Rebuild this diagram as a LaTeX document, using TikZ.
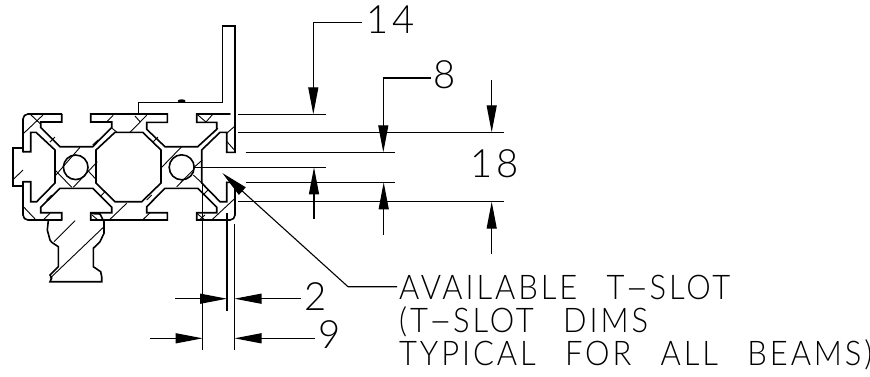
\documentclass[tikz,border=0pt]{standalone}
\usepackage{fontspec}
\usepackage{graphicx}
\usetikzlibrary{arrows.meta}
\newfontfamily\cadfont{Lato Light}[FakeStretch=0.91,LetterSpace=8.5,WordSpace=2.6]
\newfontfamily\caddigits{Lato Light}[FakeStretch=0.98,LetterSpace=10]
\newcommand{\cadhy}{\scalebox{2.2}[1]{-}}
\tikzset{
  x=1pt,y=-1pt,
  outline/.style={line width=1.6pt,line join=miter,line cap=round},
  hatchline/.style={line width=0.9pt},
  dimline/.style={line width=1.1pt},
  dimarrow/.style={line width=1.1pt,-{Triangle[length=27pt,width=10pt]}},
  cadtext/.style={inner sep=0pt,anchor=base west,font=\cadfont\fontsize{34}{34}\selectfont},
  caddigit/.style={inner sep=0pt,anchor=base west,font=\caddigits\fontsize{39}{39}\selectfont}
}
\begin{document}
\begin{tikzpicture}
\useasboundingbox (0,0) rectangle (870,376);
% outer skin
\draw[outline,rounded corners=5pt] (61.7,114) -- (23,114) -- (23,151.7);
\draw[outline] (23,151.7) -- (30.7,151.7) -- (30.7,132.3) -- (36,132.3) -- (55,150) -- (55,183) -- (36.7,201.7) -- (30.7,201.7) -- (30.7,181.7) -- (23,181.7);
\draw[outline,rounded corners=5pt] (23,181.7) -- (23,220) -- (61.7,220);
% end plate
\draw[outline] (23,148) -- (12.7,148) -- (12.7,186) -- (23,186);
% top slots
\draw[outline] (61.7,114) -- (61.7,122) -- (40.7,122) -- (40.7,127.5) -- (60,146.7) -- (92.7,146.7) -- (111.7,127.5) -- (111.7,122) -- (90.7,122) -- (90.7,114) -- (167.3,114) -- (167.3,122.3) -- (146.7,122.3) -- (146.7,129.3) -- (165,146.7) -- (197.7,146.7) -- (216.7,129.3) -- (216.7,122.3) -- (196.7,122.3) -- (196.7,114) -- (230,114);
% bottom slots
\draw[outline] (61.7,220) -- (61.7,212.7) -- (40.7,212.7) -- (40.7,207.3) -- (60,188.3) -- (92.7,188.3) -- (111.7,207.3) -- (111.7,212.7) -- (90.7,212.7) -- (90.7,220) -- (167.3,220) -- (167.3,212.7) -- (146.7,212.7) -- (146.7,206.7) -- (165,188.3) -- (197.7,188.3) -- (216.7,207.3) -- (216.7,212.7) -- (196.7,212.7) -- (196.7,220) -- (230,220);
% centre cavity
\draw[outline] (115,132.3) -- (142.7,132.3) -- (161,150) -- (161,183) -- (141.7,201.7) -- (115,201.7) -- (96,183) -- (96,150) -- cycle;
% right side
\draw[outline] (201.7,183) -- (201.7,150) -- (220,132.3) -- (226.7,132.3) -- (226.7,152.3) -- (235,152.3) -- (235,114);
\draw[outline,rounded corners=5pt] (226.7,182.3) -- (235,182.3) -- (235,220) -- (228,220);
\draw[outline] (226.7,182.3) -- (226.7,201.7) -- (220,201.7) -- (201.7,183);
% bores
\draw[outline] (75.7,167.3) circle[radius=12.3];
\draw[outline] (181.7,167.3) circle[radius=12.5];
% bracket
\draw[outline] (138.3,114) -- (138.3,102.3) -- (222.3,102.3) -- (222.3,26) -- (235,26) -- (235,114);
\fill (181.7,101) ellipse[x radius=4,y radius=1.7];
% T-nut
\draw[outline] (48.3,220.7) -- (47.3,230) -- (50,240) -- (51.7,242.3) -- (58.3,246.7) -- (58.3,266.7) -- (51.7,273.3) -- (50,275) -- (51.7,278) -- (50,281.7) -- (101.7,281.7) -- (101.7,276.7) -- (100.7,271.7) -- (93.3,266.7) -- (93.3,248.3) -- (100,241.7) -- (104,233.3) -- (104,221.7) -- (100,214) -- (91,213.5);
% hatching
\foreach \xa/\ya/\xb/\yb in {
 24/133/43/115, 30/114/40/123.5, 50/142/55/137, 92.7/145/98/140, 106.7/121.7/113.3/115.3,
 111.7/128/116.7/132, 130/132.3/146.7/115.3, 135/116/140/121.7, 153.3/141.7/158/137,
 161.7/167.3/181.7/146.7, 193.3/168/202.3/160, 196.7/114/206/122, 206/122/213/114,
 213/133/218/128, 227/133/235/126, 227/141.7/235/150.7, 55/176/80/147.3, 73.3/187.3/97.3/161.7,
 55/170/71.7/187.3, 87.3/170/96/179.3, 12.7/180/23/170, 24/207.3/36.7/220.7,
 43.3/220/50/213.3, 46.7/200/51.7/195, 100/196.7/105/191.7, 110/219.3/126.7/203.3,
 143.3/219.3/150/212.7, 146.7/200/151.7/195, 176.7/186.7/193.3/170, 193.3/175/203/184,
 211.7/220/235/198.3, 196.7/213.3/205/220, 200/219.3/205/215, 203/195/208/190,
 54/241.7/75/220.7, 50/278.3/104/226.7, 92/215/98/220}{
  \draw[hatchline] (\xa,\ya) -- (\xb,\yb);
}
% extension lines
\foreach \xa/\ya/\xb/\yb in {
 238/114.3/326/114.3, 238/132.3/503.7/132.3, 245.7/152.3/395/152.3, 194/167.3/326/167.3,
 245.7/182.3/395/182.3, 238/201.7/503.7/201.7,
 202.7/183/202.7/350, 227/213/227/310.7, 234.5/224/234.5/350}{
  \draw[dimline] (\xa,\ya) -- (\xb,\yb);
}
% labels
\node[caddigit] (d14) at (366,33) {14};
\node[caddigit] (d8) at (433,88) {8};
\node[caddigit] (d18) at (470,177) {18};
\node[caddigit] (d2) at (304,310) {2};
\node[caddigit] (d9) at (318,348) {9};
\node[cadtext] (l1) at (399,299.3) {AVAILABLE T\cadhy SLOT};
\node[cadtext] (l2) at (399,332) {(T\cadhy SLOT DIMS};
\node[cadtext] (l3) at (399,365) {TYPICAL FOR ALL BEAMS)};
% named free ends
\coordinate (c14a) at (362,22.3); \coordinate (c14b) at (313.3,22.3); \coordinate (c14t) at (313.3,114.3);
\coordinate (c8a) at (431,78); \coordinate (c8b) at (383.3,78); \coordinate (c8t) at (383.3,152.3);
\coordinate (up18) at (491.7,80); \coordinate (t18a) at (491.7,132.3);
\coordinate (dn14) at (314,219); \coordinate (t14) at (314,167.3);
\coordinate (dn8) at (383.7,234.7); \coordinate (t8) at (383.7,182.3);
\coordinate (dn18) at (491.7,254.3); \coordinate (t18b) at (491.7,201.7);
\coordinate (a2l) at (175,298.7); \coordinate (t2l) at (227,298.7);
\coordinate (a2r) at (301,298.7); \coordinate (t2r) at (234.5,298.7);
\coordinate (a9l) at (150,338.3); \coordinate (t9l) at (202.7,338.3);
\coordinate (a9r) at (315,338.3); \coordinate (t9r) at (234.5,338.3);
\coordinate (la) at (397,286.7); \coordinate (lb) at (348,286.7); \coordinate (lt) at (222.3,173);
% dimension arrows
\draw[dimarrow] (c14a) -- (c14b) -- (c14t);
\draw[dimarrow] (c8a) -- (c8b) -- (c8t);
\draw[dimarrow] (up18) -- (t18a);
\draw[dimarrow] (dn14) -- (t14);
\draw[dimarrow] (dn8) -- (t8);
\draw[dimarrow] (dn18) -- (t18b);
\draw[dimarrow] (a2l) -- (t2l);
\draw[dimarrow] (a2r) -- (t2r);
\draw[dimarrow] (a9l) -- (t9l);
\draw[dimarrow] (a9r) -- (t9r);
\draw[dimarrow] (la) -- (lb) -- (lt);
\end{tikzpicture}
\end{document}
